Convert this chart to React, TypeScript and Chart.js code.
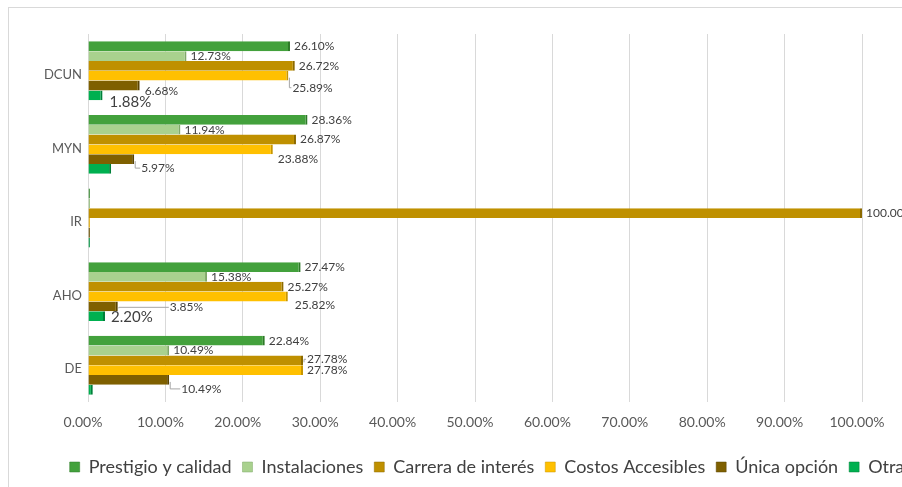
import React, { useEffect, useRef } from "react";
import { Chart, registerables } from "chart.js";

Chart.register(...registerables);

// ---- data ----
const categories = ["DCUN", "MYN", "IR", "AHO", "DE"];
const seriesNames = [
  "Prestigio y calidad",
  "Instalaciones",
  "Carrera de interés",
  "Costos Accesibles",
  "Única opción",
  "Otra",
];
const prestigio = [26.1, 28.36, 0, 27.47, 22.84];
const instalaciones = [12.73, 11.94, 0, 15.38, 10.49];
const carrera = [26.72, 26.87, 100, 25.27, 27.78];
const costos = [25.89, 23.88, 0, 25.82, 27.78];
const unica = [6.68, 5.97, 0, 3.85, 10.49];
const otra = [1.88, 2.99, 0, 2.2, 0.62];
const xTickValues = [0, 10, 20, 30, 40, 50, 60, 70, 80, 90, 100];

// ---- styles ----
const fills = ["#43A13C", "#A9D18E", "#BF9000", "#FFC000", "#7F6000", "#00B050"];
const edges = ["#2E7A29", "#7FA868", "#8C6A00", "#C89600", "#5A4400", "#00803A"];
const hiddenLabels = ["5-1", "5-4"];
const bigLabels = ["5-0", "5-3"];
const labelOffsets: Record<string, { dx: number; dy: number; leader?: boolean }> = {
  "3-0": { dx: 0, dy: 12, leader: true },
  "4-0": { dx: 1, dy: 6 },
  "5-0": { dx: 3, dy: 7 },
  "3-1": { dx: 1, dy: 10 },
  "4-1": { dx: 3, dy: 9, leader: true },
  "3-3": { dx: 3, dy: 9 },
  "4-3": { dx: 48, dy: 1, leader: true },
  "5-3": { dx: 2, dy: 1 },
  "4-4": { dx: 8, dy: 9, leader: true },
  "2-4": { dx: 0, dy: -1, leader: true },
};

const CW = 956;
const CH = 490;
const FONT = "Lato";

const valueLabels = {
  id: "valueLabels",
  afterDatasetsDraw(chart: any) {
    const ctx = chart.ctx;
    ctx.save();
    chart.data.datasets.forEach((ds: any, si: number) => {
      const meta = chart.getDatasetMeta(si);
      meta.data.forEach((el: any, ci: number) => {
        const v = ds.data[ci];
        if (!v) return;
        const key = `${si}-${ci}`;
        if (hiddenLabels.includes(key)) return;
        const o = labelOffsets[key] || { dx: 0, dy: 0 };
        const big = bigLabels.includes(key);
        const tx = el.x + 4 + o.dx;
        const ty = el.y + o.dy;
        if (o.leader) {
          ctx.strokeStyle = "#a6a6a6";
          ctx.lineWidth = 1;
          ctx.beginPath();
          ctx.moveTo(el.x + 1, el.y + 2);
          ctx.lineTo(el.x + 1, ty);
          ctx.lineTo(tx - 1, ty);
          ctx.stroke();
        }
        ctx.font = `${big ? 15 : 12}px ${FONT}`;
        ctx.fillStyle = "#404040";
        ctx.textAlign = "left";
        ctx.textBaseline = "middle";
        ctx.fillText(v.toFixed(2) + "%", tx, ty);
      });
    });
    ctx.restore();
  },
};

export default function App() {
  const ref = useRef<HTMLCanvasElement>(null);
  useEffect(() => {
    const seriesData = [prestigio, instalaciones, carrera, costos, unica, otra];
    const chart = new Chart(ref.current as HTMLCanvasElement, {
      type: "bar",
      data: {
        labels: categories,
        datasets: seriesNames.map((name, i) => ({
          label: name,
          data: seriesData[i],
          backgroundColor: fills[i],
          borderColor: edges[i],
          borderWidth: { right: 2, top: 0, bottom: 0, left: 0 },
          borderSkipped: false,
          categoryPercentage: 0.8,
          barPercentage: 1.0,
          minBarLength: 2,
          yAxisID: "y",
        })),
      },
      options: {
        indexAxis: "y",
        responsive: false,
        animation: false,
        devicePixelRatio: 1,
        layout: { padding: { left: 0, top: 26, right: 0, bottom: 12 } },
        scales: {
          x: {
            min: 0,
            max: 100,
            afterBuildTicks: (s: any) => {
              s.ticks = xTickValues.map((v) => ({ value: v }));
            },
            afterFit: (s: any) => {
              s.height = 45;
            },
            ticks: {
              callback: (v: any) => Number(v).toFixed(2) + "%",
              color: "#595959",
              font: { family: FONT, size: 14 },
              padding: 12,
              labelOffset: -5,
              maxRotation: 0,
            },
            grid: { color: "#d9d9d9", drawTicks: false },
            border: { display: false },
          },
          y: {
            afterFit: (s: any) => {
              s.width = 79;
            },
            ticks: {
              color: "#595959",
              font: { family: FONT, size: 13 },
              padding: 6,
              labelOffset: 4,
            },
            grid: { display: false, drawTicks: false },
            border: { display: false },
          },
          y2: {
            type: "category",
            labels: categories,
            position: "right",
            afterFit: (s: any) => {
              s.width = CW - 853;
            },
            ticks: { display: false },
            grid: { display: false, drawTicks: false },
            border: { display: false },
          },
        },
        plugins: {
          legend: {
            position: "bottom",
            labels: {
              boxWidth: 10,
              boxHeight: 10,
              padding: 11,
              color: "#404040",
              font: { family: FONT, size: 18 },
            },
          },
          tooltip: { enabled: false },
        },
      },
      plugins: [valueLabels],
    } as any);
    return () => chart.destroy();
  }, []);
  return (
    <div
      style={{
        position: "fixed",
        left: 0,
        top: 0,
        width: 902,
        height: 487,
        overflow: "hidden",
        background: "#fff",
      }}
    >
      <div
        style={{
          position: "absolute",
          left: 8,
          top: 7,
          width: CW,
          height: CH,
          border: "1px solid #d9d9d9",
        }}
      >
        <canvas ref={ref} width={CW} height={CH} style={{ display: "block", width: CW, height: CH }} />
      </div>
    </div>
  );
}
